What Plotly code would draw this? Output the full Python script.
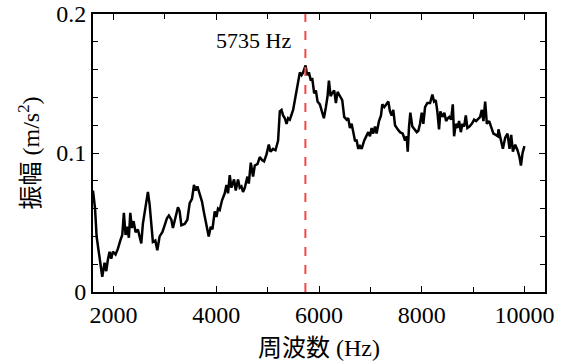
import plotly.graph_objects as go

freq_hz = [1600, 1640, 1670, 1694, 1727, 1780, 1825, 1858, 1889, 1922, 1955, 1986, 2039, 2084, 2131, 2170,
           2201, 2234, 2267, 2298, 2326, 2357, 2390, 2429, 2474, 2507, 2540, 2571, 2618, 2649, 2669, 2702,
           2735, 2766, 2813, 2852, 2897, 2950, 2995, 3039, 3078, 3125, 3156, 3190, 3254, 3287, 3320, 3385,
           3437, 3482, 3527, 3566, 3599, 3632, 3677, 3722, 3761, 3808, 3853, 3892, 3925, 3970, 4003, 4034,
           4067, 4112, 4165, 4198, 4229, 4262, 4295, 4346, 4379, 4424, 4457, 4490, 4521, 4555, 4607, 4633,
           4672, 4716, 4750, 4802, 4847, 4892, 4931, 4978, 5023, 5056, 5106, 5153, 5204, 5237, 5270, 5301,
           5335, 5368, 5399, 5432, 5465, 5496, 5530, 5563, 5594, 5627, 5660, 5691, 5738, 5769, 5803, 5842,
           5867, 5906, 5939, 5972, 6017, 6050, 6095, 6134, 6167, 6193, 6226, 6257, 6296, 6329, 6362, 6407,
           6452, 6491, 6538, 6569, 6602, 6635, 6666, 6700, 6733, 6764, 6797, 6830, 6881, 6928, 6959, 6992,
           7025, 7056, 7090, 7121, 7168, 7207, 7232, 7271, 7318, 7349, 7382, 7415, 7446, 7480, 7532, 7577,
           7630, 7675, 7708, 7727, 7753, 7778, 7817, 7856, 7903, 7934, 7967, 8000, 8031, 8065, 8109, 8162,
           8207, 8240, 8273, 8304, 8337, 8363, 8402, 8441, 8474, 8507, 8538, 8572, 8605, 8630, 8663, 8694,
           8728, 8761, 8792, 8825, 8858, 8889, 8928, 8975, 9020, 9059, 9104, 9137, 9170, 9201, 9235, 9268,
           9313, 9352, 9396, 9443, 9482, 9494, 9541, 9580, 9625, 9670, 9709, 9742, 9775, 9820, 9865, 9904,
           9931, 9963, 10000]

amplitude = [0.073, 0.060, 0.040, 0.034, 0.023, 0.011, 0.021, 0.015, 0.023, 0.029, 0.024, 0.029, 0.027, 0.031, 0.037, 0.041,
             0.057, 0.041, 0.047, 0.039, 0.057, 0.046, 0.051, 0.043, 0.045, 0.040, 0.035, 0.049, 0.060, 0.064, 0.072, 0.063,
             0.046, 0.036, 0.037, 0.030, 0.040, 0.043, 0.048, 0.053, 0.055, 0.052, 0.046, 0.052, 0.061, 0.058, 0.048, 0.049,
             0.052, 0.064, 0.067, 0.077, 0.073, 0.076, 0.070, 0.065, 0.057, 0.048, 0.040, 0.047, 0.045, 0.058, 0.054, 0.060,
             0.059, 0.066, 0.071, 0.077, 0.071, 0.084, 0.075, 0.081, 0.073, 0.081, 0.075, 0.076, 0.072, 0.075, 0.083, 0.078,
             0.093, 0.083, 0.091, 0.092, 0.097, 0.095, 0.094, 0.099, 0.106, 0.101, 0.103, 0.102, 0.109, 0.130, 0.131, 0.127,
             0.125, 0.121, 0.125, 0.124, 0.127, 0.131, 0.138, 0.144, 0.150, 0.158, 0.156, 0.158, 0.163, 0.156, 0.158, 0.152,
             0.154, 0.143, 0.145, 0.137, 0.135, 0.130, 0.125, 0.133, 0.141, 0.152, 0.141, 0.143, 0.145, 0.136, 0.144, 0.141,
             0.138, 0.126, 0.124, 0.125, 0.118, 0.121, 0.115, 0.109, 0.109, 0.103, 0.105, 0.103, 0.109, 0.113, 0.115, 0.112,
             0.118, 0.114, 0.119, 0.114, 0.123, 0.127, 0.135, 0.133, 0.136, 0.137, 0.130, 0.127, 0.131, 0.120, 0.117, 0.115,
             0.114, 0.109, 0.112, 0.101, 0.119, 0.129, 0.119, 0.117, 0.115, 0.116, 0.121, 0.129, 0.121, 0.133, 0.136, 0.136,
             0.142, 0.137, 0.138, 0.130, 0.117, 0.130, 0.126, 0.129, 0.123, 0.125, 0.126, 0.124, 0.135, 0.112, 0.121, 0.118,
             0.123, 0.115, 0.121, 0.119, 0.127, 0.118, 0.119, 0.121, 0.124, 0.123, 0.125, 0.126, 0.131, 0.123, 0.137, 0.121,
             0.123, 0.118, 0.114, 0.113, 0.112, 0.117, 0.109, 0.103, 0.111, 0.114, 0.103, 0.113, 0.101, 0.106, 0.102, 0.097,
             0.091, 0.100, 0.105]

peak_hz = 5735
peak_label = "5735 Hz"
x_ticks = [2000, 4000, 6000, 8000, 10000]
y_ticks = [0, 0.1, 0.2]
y_tick_labels = ["0", "0.1", "0.2"]
x_title_cjk, x_title_unit = "周波数", "(Hz)"
y_title_cjk, y_title_unit = "振幅", "(m/s<sup>2</sup>)"

FONT = "Liberation Serif, Noto Sans CJK JP"
CJK = "Noto Sans CJK JP"


def mixed(cjk, latin):
    return f'<span style="font-family:{CJK}">{cjk}</span> {latin}'


fig = go.Figure()
fig.add_trace(go.Scatter(x=freq_hz, y=amplitude, mode="lines",
                         line=dict(color="black", width=2.5), showlegend=False))
fig.add_shape(type="line", x0=peak_hz, x1=peak_hz, y0=0, y1=0.2, xref="x", yref="y",
              line=dict(color="#f04848", width=2, dash="dash"))
fig.add_annotation(x=peak_hz, y=0.181, xref="x", yref="y", text=peak_label, showarrow=False,
                   xanchor="right", yanchor="middle", xshift=-12,
                   font=dict(family=FONT, size=22, color="black"))

axis_common = dict(showline=True, linecolor="black", linewidth=2, mirror="ticks",
                   ticks="inside", ticklen=6, tickwidth=1, tickcolor="black",
                   showgrid=False, zeroline=False, automargin=False,
                   tickfont=dict(family=FONT, size=24, color="black"))

fig.update_xaxes(range=[1600, 10400], tickvals=x_ticks, ticktext=[str(v) for v in x_ticks],
                 minor=dict(dtick=1000, tick0=0, ticks="inside", ticklen=5, tickcolor="black", showgrid=False),
                 title=dict(text=mixed(x_title_cjk, x_title_unit),
                            font=dict(family=FONT, size=24, color="black"), standoff=9),
                 **axis_common)
fig.update_yaxes(range=[0, 0.2], tickvals=y_ticks, ticktext=y_tick_labels,
                 minor=dict(dtick=0.02, tick0=0, ticks="inside", ticklen=5, tickcolor="black", showgrid=False),
                 title=dict(text=mixed(y_title_cjk, y_title_unit),
                            font=dict(family=FONT, size=24, color="black"), standoff=10),
                 **axis_common)

fig.update_layout(width=562, height=364, margin=dict(l=93, r=17, t=14, b=72),
                  plot_bgcolor="white", paper_bgcolor="white")

fig.write_html("out.html", config={"displayModeBar": False},
               post_script="document.body.style.margin='0';document.body.style.overflow='hidden';")
